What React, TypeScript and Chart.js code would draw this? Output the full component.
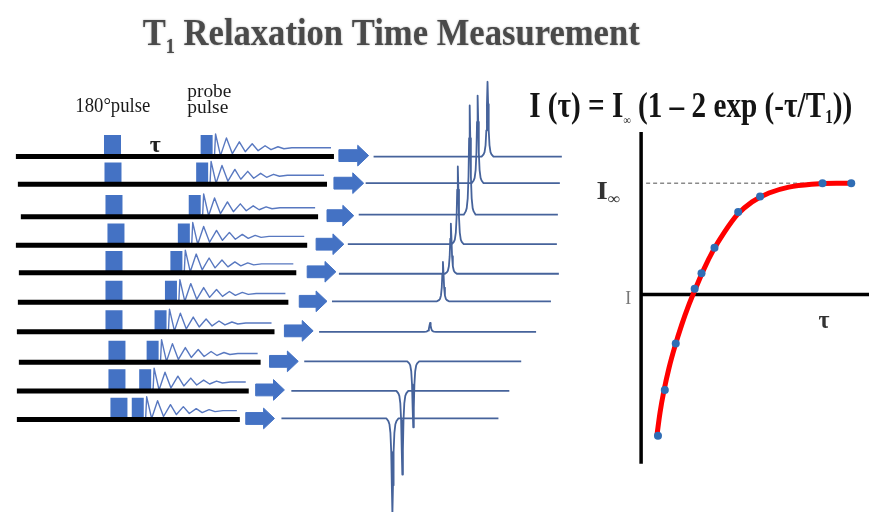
import React, { useEffect, useRef } from 'react';
import { Chart, registerables } from 'chart.js';

Chart.register(...registerables);

// ---------------- Pulse-sequence rows (top row = longest delay τ) ----------------
const rowBaseline = [155, 183, 216, 245, 273, 303, 333, 364, 393, 422];
const lineStart = [12, 14, 17, 12, 15, 14, 13, 15, 13, 13];
const lineEnd = [333, 326, 317, 306, 295, 287, 273, 259, 247, 238];
const pulse180Center = [109.5, 110, 111, 113, 111, 111, 111, 114, 114, 116];
const probeCenter = [204.5, 200, 192.5, 181.5, 174, 168.5, 158, 150, 142.5, 135];

// FID shape following each probe pulse (offset from pulse edge, height above line)
const fidDx = [0, 2, 3, 8, 14, 20, 27, 33, 40, 46, 53, 59, 66, 72, 80];
const fidDy = [-1, -2, -23, -1, -19, -3, -15, -5, -13, -6, -11, -7, -10, -8, -9];

// Block arrows
const arrowStart = [338, 333, 326, 315, 306, 298, 283, 268, 254, 244];
const arrowEnd = [368, 363, 353, 343, 335, 326, 312, 297, 283, 273];

// Spectra
const specBaseline = [155, 182, 214, 244, 274, 302, 333, 363, 393, 421];
const specStart = [373, 365, 358, 347, 338, 331, 318, 303, 290, 280];
const specEnd = [563, 561, 559, 558, 560, 552, 537, 522, 510, 499];
const peakPos = [488, 478, 470, 458, 451, 443, 430, 413, 402, 392];
const peakHeight = [76, 89, 111, 79, 51, 40, 9, -67, -85, -97];
const peakShapeDx = [-6, -4, -3, -2, -1.2, -0.6, 0, 0.6, 1.2, 2, 3, 4, 6];
const peakShapeFrac = [0, 0.03, 0.06, 0.15, 0.35, 0.7, 1, 0.7, 0.35, 0.15, 0.06, 0.03, 0];

// ---------------- Recovery plot I(τ) ----------------
const tauPoints = [0.74, 1.04, 1.52, 2.35, 2.65, 3.22, 4.26, 5.22, 7.96, 9.22];
const intensityPoints = [-1.27, -0.86, -0.44, 0.05, 0.19, 0.42, 0.74, 0.88, 1.0, 1.0];
const fitTau = [0.7, 0.83, 1.0, 1.22, 1.48, 1.78, 2.09, 2.39, 2.74, 3.17, 3.65, 4.22, 4.87, 5.61, 6.48, 7.48, 8.57, 9.26];
const fitIntensity = [-1.257, -1.062, -0.867, -0.664, -0.469, -0.274, -0.097, 0.053, 0.221, 0.398, 0.558, 0.717, 0.832, 0.912, 0.965, 0.991, 1.0, 1.0];

const BLUE = '#4472c4';

type Part = { t: string; size: number; dy?: number; bold?: boolean };

function drawRich(
  ctx: CanvasRenderingContext2D,
  parts: Part[],
  x: number,
  y: number,
  color: string,
  targetW?: number,
) {
  ctx.save();
  ctx.fillStyle = color;
  ctx.textAlign = 'left';
  ctx.textBaseline = 'alphabetic';
  const fontOf = (p: Part) => `${p.bold ? 'bold ' : ''}${p.size}px "Liberation Serif", "Times New Roman", serif`;
  const widths = parts.map((p) => {
    ctx.font = fontOf(p);
    return ctx.measureText(p.t).width;
  });
  const total = widths.reduce((a, b) => a + b, 0);
  const sx = targetW ? targetW / total : 1;
  ctx.translate(x, y);
  ctx.scale(sx, 1);
  let cx = 0;
  parts.forEach((p, i) => {
    ctx.font = fontOf(p);
    ctx.fillText(p.t, cx, p.dy || 0);
    cx += widths[i];
  });
  ctx.restore();
}

const textPlugin = {
  id: 'diagramText',
  afterDatasetsDraw(chart: any) {
    const ctx: CanvasRenderingContext2D = chart.ctx;
    const sx = chart.scales.x;
    const sy = chart.scales.y;
    const X = (v: number) => sx.getPixelForValue(v);
    const Y = (v: number) => sy.getPixelForValue(v);

    ctx.save();
    ctx.shadowColor = 'rgba(70,70,70,0.45)';
    ctx.shadowBlur = 2;
    drawRich(
      ctx,
      [
        { t: 'T', size: 38, bold: true },
        { t: '1', size: 20, bold: true, dy: 8 },
        { t: ' Relaxation Time Measurement', size: 38, bold: true },
      ],
      X(140),
      Y(42),
      '#4a4a4a',
      497,
    );
    ctx.restore();

    drawRich(
      ctx,
      [
        { t: 'I (τ) = I', size: 35, bold: true },
        { t: '∞', size: 12, bold: true, dy: 7 },
        { t: ' (1 – 2 exp (-τ/T', size: 35, bold: true },
        { t: '1', size: 18, bold: true, dy: 6 },
        { t: '))', size: 35, bold: true },
      ],
      X(530),
      Y(115),
      '#141414',
      323,
    );

    drawRich(ctx, [{ t: '180°pulse', size: 20 }], X(72), Y(110), '#1a1a1a', 75);
    drawRich(ctx, [{ t: 'probe', size: 19 }], X(185), Y(94), '#1a1a1a', 44);
    drawRich(ctx, [{ t: 'pulse', size: 19 }], X(185), Y(111), '#1a1a1a', 41);
    drawRich(ctx, [{ t: 'τ', size: 24, bold: true }], X(147), Y(150), '#222', 11);

    drawRich(
      ctx,
      [
        { t: 'I', size: 26, bold: true },
        { t: '∞', size: 16, dy: 5 },
      ],
      X(598),
      Y(198),
      '#333',
      24,
    );
    drawRich(ctx, [{ t: 'I', size: 19 }], X(627), Y(305), '#777', 6);
    drawRich(ctx, [{ t: 'τ', size: 25, bold: true }], X(822), Y(329), '#333', 11);
  },
};

export default function App() {
  const ref = useRef<HTMLCanvasElement>(null);

  useEffect(() => {
    const canvas = ref.current;
    if (!canvas) return;

    const gap = (x: number) => ({ x, y: null as any });
    const datasets: any[] = [];
    const lineBase = {
      type: 'line',
      pointRadius: 0,
      pointHoverRadius: 0,
      fill: false,
      tension: 0,
      spanGaps: false,
      xAxisID: 'x',
      yAxisID: 'y',
    };

    // black timing lines
    const blackLines: any[] = [];
    rowBaseline.forEach((yb, i) => {
      blackLines.push({ x: lineStart[i], y: yb }, { x: lineEnd[i], y: yb }, gap(lineEnd[i]));
    });
    datasets.push({ ...lineBase, data: blackLines, borderColor: '#000', borderWidth: 5, borderCapStyle: 'butt', order: 1 });

    // 180° pulses and probe pulses (rectangles as thick vertical strokes)
    const p180: any[] = [];
    const pProbe: any[] = [];
    rowBaseline.forEach((yb, i) => {
      p180.push({ x: pulse180Center[i], y: yb }, { x: pulse180Center[i], y: yb - 22 }, gap(pulse180Center[i]));
      pProbe.push({ x: probeCenter[i], y: yb }, { x: probeCenter[i], y: yb - 22 }, gap(probeCenter[i]));
    });
    datasets.push({ ...lineBase, data: p180, borderColor: BLUE, borderWidth: 17, borderCapStyle: 'butt', order: 2 });
    datasets.push({ ...lineBase, data: pProbe, borderColor: BLUE, borderWidth: 12, borderCapStyle: 'butt', order: 2 });

    // FIDs
    const fid: any[] = [];
    rowBaseline.forEach((yb, i) => {
      const x0 = probeCenter[i] + 6;
      fidDx.forEach((dx, k) => fid.push({ x: x0 + dx, y: yb + fidDy[k] }));
      fid.push({ x: lineEnd[i] - 3, y: yb - 9 }, gap(lineEnd[i] - 3));
    });
    datasets.push({ ...lineBase, data: fid, borderColor: '#5878c0', borderWidth: 1.4, borderJoinStyle: 'round', order: 3 });

    // block arrows
    rowBaseline.forEach((yb, i) => {
      const y = yb - 1;
      const x0 = arrowStart[i];
      const x2 = arrowEnd[i];
      const x1 = x2 - 11;
      datasets.push({
        ...lineBase,
        data: [
          { x: x0, y: y - 6 },
          { x: x1, y: y - 6 },
          { x: x1, y: y - 10.5 },
          { x: x2, y: y },
          { x: x1, y: y + 10.5 },
          { x: x1, y: y + 6 },
          { x: x0, y: y + 6 },
          { x: x0, y: y - 6 },
        ],
        borderColor: BLUE,
        borderWidth: 1,
        backgroundColor: BLUE,
        fill: 'shape',
        order: 4,
      });
    });

    // spectra
    const spec: any[] = [];
    specBaseline.forEach((yb, i) => {
      spec.push({ x: specStart[i], y: yb });
      peakShapeDx.forEach((dx, k) => spec.push({ x: peakPos[i] + dx, y: yb - peakHeight[i] * peakShapeFrac[k] }));
      spec.push({ x: specEnd[i], y: yb }, gap(specEnd[i]));
    });
    datasets.push({ ...lineBase, data: spec, borderColor: '#46639b', borderWidth: 1.8, borderJoinStyle: 'round', order: 5 });

    // ---------- recovery plot (own scales: τ and I/I∞) ----------
    const plotBase = { ...lineBase, xAxisID: 'xt', yAxisID: 'yi' };
    datasets.push({
      ...plotBase,
      data: [
        { x: 0, y: -1.522 },
        { x: 0, y: 1.46 },
      ],
      borderColor: '#000',
      borderWidth: 3.5,
      borderCapStyle: 'butt',
      order: 8,
    });
    datasets.push({
      ...plotBase,
      data: [
        { x: 0, y: 0 },
        { x: 10.2, y: 0 },
      ],
      borderColor: '#000',
      borderWidth: 3.5,
      borderCapStyle: 'butt',
      order: 8,
    });
    datasets.push({
      ...plotBase,
      data: [
        { x: 0.22, y: 1 },
        { x: 7.83, y: 1 },
      ],
      borderColor: '#8a8a8a',
      borderWidth: 1.5,
      borderDash: [4, 3],
      order: 7,
    });
    datasets.push({
      ...plotBase,
      data: fitTau.map((t, i) => ({ x: t, y: fitIntensity[i] })),
      borderColor: '#ff0000',
      borderWidth: 5,
      borderCapStyle: 'round',
      cubicInterpolationMode: 'monotone',
      order: 6,
    });
    datasets.push({
      ...plotBase,
      data: tauPoints.map((t, i) => ({ x: t, y: intensityPoints[i] })),
      showLine: false,
      pointRadius: 4,
      pointBackgroundColor: '#2f6db5',
      pointBorderWidth: 0,
      borderColor: '#2f6db5',
      order: 0,
    });

    const chart = new Chart(canvas, {
      type: 'line',
      data: { datasets },
      options: {
        responsive: false,
        maintainAspectRatio: false,
        devicePixelRatio: 1,
        animation: false,
        events: [],
        layout: { padding: 0 },
        plugins: { legend: { display: false }, tooltip: { enabled: false }, title: { display: false } },
        scales: {
          x: { type: 'linear', min: 0, max: 873, display: false, offset: false },
          y: { type: 'linear', min: 0, max: 516, reverse: true, display: false },
          xt: { type: 'linear', axis: 'x', min: -643 / 23, max: 230 / 23, display: false, offset: false },
          yi: { type: 'linear', axis: 'y', min: -221 / 113, max: 295 / 113, display: false },
        },
      } as any,
      plugins: [textPlugin],
    });

    return () => chart.destroy();
  }, []);

  return (
    <div style={{ position: 'absolute', left: 0, top: 0, width: 873, height: 516, background: '#fff' }}>
      <canvas ref={ref} width={873} height={516} style={{ display: 'block', width: 873, height: 516 }} />
    </div>
  );
}
